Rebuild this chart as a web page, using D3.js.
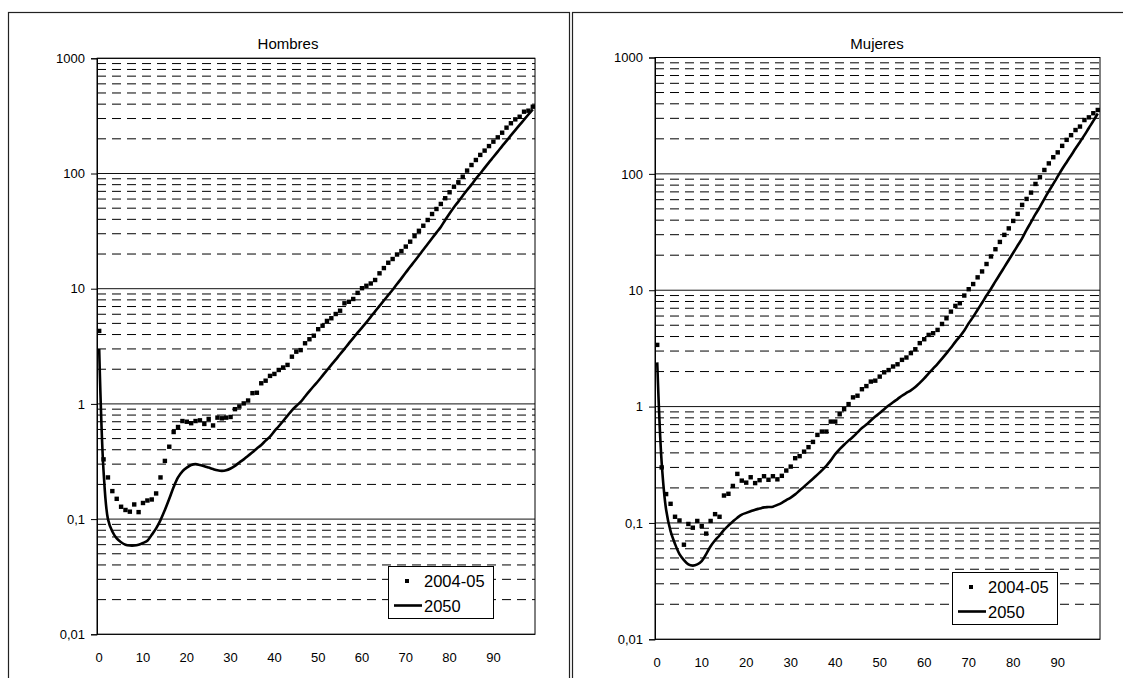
<!DOCTYPE html>
<html>
<head>
<meta charset="utf-8">
<script src="https://cdn.jsdelivr.net/npm/d3@7"></script>
<style>
  html, body { margin: 0; padding: 0; background: #fff; }
  svg { display: block; font-family: "Liberation Sans", Arial, sans-serif; }
</style>
</head>
<body>
<svg id="chart" width="1123" height="678"></svg>
<script>
// Ages 0..99 form the category axis
const ages = d3.range(0, 100);
const xTickLabels = [0, 10, 20, 30, 40, 50, 60, 70, 80, 90];
const yTickValues = [0.01, 0.1, 1, 10, 100, 1000];
const yTickLabels = ["0,01", "0,1", "1", "10", "100", "1000"];
const seriesNames = ["2004-05", "2050"];

// Hombres: observed 2004-05 rates (dots) and 2050 projection (line)
const hombres2004 = [
  4.3, 0.33, 0.23, 0.175, 0.15, 0.128, 0.12, 0.116, 0.134, 0.115,
  0.138, 0.145, 0.148, 0.167, 0.23, 0.32, 0.425, 0.57, 0.63, 0.71,
  0.70, 0.68, 0.71, 0.72, 0.67, 0.74, 0.65, 0.76, 0.75, 0.76,
  0.77, 0.90, 0.95, 1.01, 1.07, 1.24, 1.25, 1.51, 1.59, 1.75,
  1.82, 1.97, 2.07, 2.18, 2.57, 2.84, 2.93, 3.36, 3.64, 3.91,
  4.45, 4.77, 5.25, 5.54, 6.03, 6.44, 7.47, 7.7, 8.14, 9.2,
  10.1, 10.6, 11.1, 11.9, 13.6, 15.1, 16.8, 18.1, 19.8, 21.2,
  23.2, 25.6, 28.6, 31.8, 35.2, 39.5, 44.5, 49.2, 54.4, 61,
  68.7, 76.8, 83.9, 93.8, 106, 118.5, 131, 145, 158, 173,
  189, 206, 226, 250, 273, 295, 311, 344, 351, 380
];
const hombres2050 = [
  3.0, 0.26, 0.10, 0.078, 0.068, 0.063, 0.060, 0.059, 0.059, 0.060,
  0.062, 0.065, 0.073, 0.083, 0.098, 0.12, 0.15, 0.19, 0.23, 0.26,
  0.28, 0.295, 0.30, 0.295, 0.288, 0.28, 0.272, 0.265, 0.262, 0.265,
  0.275, 0.29, 0.31, 0.33, 0.355, 0.38, 0.41, 0.44, 0.48, 0.52,
  0.58, 0.64, 0.71, 0.79, 0.88, 0.96, 1.04, 1.16, 1.29, 1.43,
  1.58, 1.76, 1.96, 2.18, 2.42, 2.70, 3.0, 3.35, 3.72, 4.15,
  4.6, 5.1, 5.7, 6.35, 7.1, 7.9, 8.8, 9.8, 11.0, 12.3,
  13.8, 15.5, 17.3, 19.4, 21.8, 24.4, 27.4, 30.7, 34.4, 39.5,
  45, 51, 57, 64, 72, 80, 90, 100, 112, 125,
  139, 155, 173, 192, 214, 238, 264, 293, 325, 360
];

// Mujeres: observed 2004-05 rates (dots) and 2050 projection (line)
const mujeres2004 = [
  3.39, 0.30, 0.177, 0.146, 0.113, 0.105, 0.065, 0.098, 0.091, 0.104,
  0.094, 0.081, 0.104, 0.119, 0.113, 0.172, 0.178, 0.208, 0.264, 0.231,
  0.222, 0.247, 0.22, 0.233, 0.252, 0.235, 0.252, 0.237, 0.254, 0.282,
  0.305, 0.36, 0.375, 0.41, 0.448, 0.497, 0.571, 0.61, 0.61, 0.743,
  0.743, 0.86, 0.95, 1.05, 1.2, 1.24, 1.41, 1.5, 1.64, 1.67,
  1.81, 1.97, 2.06, 2.21, 2.31, 2.52, 2.64, 2.88, 3.11, 3.51,
  3.79, 4.13, 4.27, 4.56, 5.13, 5.74, 6.55, 7.33, 7.73, 9.0,
  10.2, 11.3, 12.9, 14.5, 16.8, 19.5, 22.5, 26, 29.9, 34,
  39.4, 45.3, 54.1, 60.9, 69, 81.9, 93.5, 108, 123, 139,
  153, 174, 196, 215, 238, 255, 290, 306, 332, 354
];
const mujeres2050 = [
  2.4, 0.33, 0.13, 0.085, 0.066, 0.054, 0.048, 0.044, 0.043, 0.044,
  0.047, 0.054, 0.063, 0.071, 0.078, 0.087, 0.095, 0.103, 0.111, 0.118,
  0.122, 0.126, 0.13, 0.133, 0.136, 0.137, 0.138, 0.143, 0.149, 0.157,
  0.165, 0.176, 0.19, 0.205, 0.222, 0.24, 0.26, 0.283, 0.31, 0.345,
  0.39, 0.43, 0.47, 0.51, 0.55, 0.60, 0.655, 0.70, 0.76, 0.82,
  0.88, 0.95, 1.02, 1.09, 1.16, 1.24, 1.31, 1.38, 1.47, 1.6,
  1.75, 1.93, 2.12, 2.33, 2.58, 2.87, 3.2, 3.6, 4.0, 4.5,
  5.2, 5.9, 6.8, 7.8, 9.0, 10.3, 11.9, 13.7, 15.8, 18.2,
  21, 24.2, 27.9, 33, 38.5, 45, 52, 61, 71, 82,
  95, 110, 126, 144, 165, 188, 215, 248, 285, 330
];

const svg = d3.select("#chart");

// Layout of the two chart panels
const panels = [
  { title: "Hombres", dots: hombres2004, line: hombres2050,
    frame: [8.5, 12.5, 561, 700], titleX: 288, titleY: 43,
    plot: { x0: 97, x1: 535, y0: 58.3, y1: 634.3 },
    legend: { x: 388, y: 566, w: 105, h: 52 } },
  { title: "Mujeres", dots: mujeres2004, line: mujeres2050,
    frame: [572.5, 12.5, 620, 700], titleX: 877, titleY: 43,
    plot: { x0: 655, x1: 1100, y0: 57.5, y1: 639.3 },
    legend: { x: 952, y: 572, w: 105, h: 52 } }
];

panels.forEach(p => {
  const g = svg.append("g");
  const P = p.plot;

  // chart frame
  g.append("rect")
    .attr("x", p.frame[0]).attr("y", p.frame[1])
    .attr("width", p.frame[2]).attr("height", p.frame[3])
    .attr("fill", "#fff").attr("stroke", "#222").attr("stroke-width", 1.2);

  const x = d3.scaleBand().domain(ages).range([P.x0, P.x1]).padding(0);
  const xc = a => x(a) + x.bandwidth() / 2;
  const y = d3.scaleLog().domain([0.01, 1000]).range([P.y1, P.y0]);

  // minor gridlines (dashed) at 2..9 within each decade
  const minor = y.ticks().filter(v => !yTickValues.some(t => Math.abs(t - v) / t < 1e-9));
  g.append("g").selectAll("line").data(minor).join("line")
    .attr("x1", P.x0).attr("x2", P.x1)
    .attr("y1", d => y(d)).attr("y2", d => y(d))
    .attr("stroke", "#000").attr("stroke-width", 1)
    .attr("stroke-dasharray", "9,6");

  // major gridlines (solid) at each decade
  g.append("g").selectAll("line").data(yTickValues).join("line")
    .attr("x1", P.x0).attr("x2", P.x1)
    .attr("y1", d => y(d)).attr("y2", d => y(d))
    .attr("stroke", "#111").attr("stroke-width", 1);

  // plot area border
  g.append("rect")
    .attr("x", P.x0).attr("y", P.y0)
    .attr("width", P.x1 - P.x0).attr("height", P.y1 - P.y0)
    .attr("fill", "none").attr("stroke", "#000").attr("stroke-width", 1);

  // y axis with decade labels
  const yAxis = d3.axisLeft(y).tickValues(yTickValues)
    .tickFormat((d, i) => yTickLabels[i]).tickSize(6).tickPadding(6);
  const ya = g.append("g").attr("transform", `translate(${P.x0},0)`).call(yAxis);
  ya.select(".domain").attr("stroke", "#000");
  ya.selectAll(".tick line").attr("stroke", "#000");
  ya.selectAll("text").attr("font-size", 13).attr("fill", "#000")
    .attr("font-family", "'Liberation Sans', Arial, sans-serif");

  // x axis: labels only, every 10 years
  const xAxis = d3.axisBottom(x).tickValues(xTickLabels).tickSize(0).tickPadding(18);
  const xa = g.append("g").attr("transform", `translate(0,${P.y1})`).call(xAxis);
  xa.select(".domain").remove();
  xa.selectAll("text").attr("font-size", 13).attr("fill", "#000")
    .attr("font-family", "'Liberation Sans', Arial, sans-serif");

  // 2050 projection line
  const line = d3.line()
    .x((d, i) => xc(ages[i]))
    .y(d => y(d))
    .curve(d3.curveCatmullRom.alpha(0.5));
  g.append("path").datum(p.line)
    .attr("d", line)
    .attr("fill", "none").attr("stroke", "#000").attr("stroke-width", 2.6)
    .attr("stroke-linejoin", "round");

  // 2004-05 observed markers
  const ms = 4.4;
  g.append("g").selectAll("rect").data(p.dots).join("rect")
    .attr("x", (d, i) => xc(ages[i]) - ms / 2)
    .attr("y", d => y(d) - ms / 2)
    .attr("width", ms).attr("height", ms)
    .attr("fill", "#000");

  // title
  g.append("text")
    .attr("x", p.titleX).attr("y", p.titleY)
    .attr("text-anchor", "middle").attr("dominant-baseline", "central")
    .attr("font-size", 15).attr("fill", "#000")
    .text(p.title);

  // legend
  const L = p.legend;
  const lg = g.append("g").attr("transform", `translate(${L.x},${L.y})`);
  lg.append("rect").attr("x", 0.5).attr("y", 0.5).attr("width", L.w).attr("height", L.h)
    .attr("fill", "#fff").attr("stroke", "#000").attr("stroke-width", 1);
  lg.append("rect").attr("x", 19 - 2).attr("y", 15 - 2).attr("width", 4).attr("height", 4).attr("fill", "#000");
  lg.append("line").attr("x1", 6).attr("x2", 34).attr("y1", 39.5).attr("y2", 39.5)
    .attr("stroke", "#000").attr("stroke-width", 2.6);
  lg.append("text").attr("x", 36).attr("y", 15).attr("dominant-baseline", "central")
    .attr("font-size", 16.5).attr("fill", "#000").text(seriesNames[0]);
  lg.append("text").attr("x", 36).attr("y", 39.5).attr("dominant-baseline", "central")
    .attr("font-size", 16.5).attr("fill", "#000").text(seriesNames[1]);
});
</script>
</body>
</html>
